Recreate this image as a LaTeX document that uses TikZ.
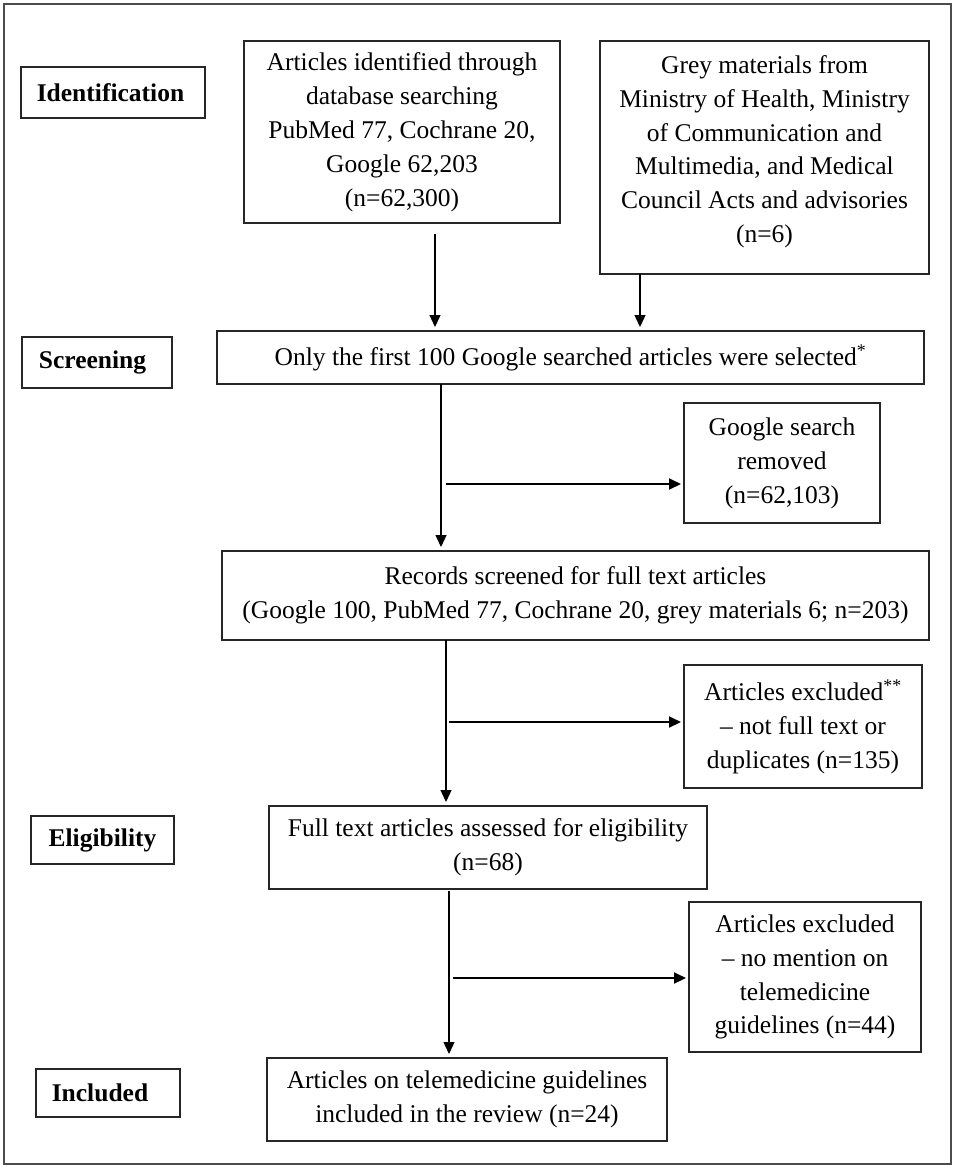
\documentclass[tikz,border=0pt]{standalone}
\usepackage{fontspec}
\setmainfont{Liberation Serif}
\usetikzlibrary{arrows.meta}
\begin{document}
\begin{tikzpicture}[x=1bp,y=-1bp,
  box/.style={draw=black!85, line width=1.1bp, inner sep=0pt, outer sep=0pt, align=center,
    font=\fontsize{25.6}{34}\selectfont},
  lbl/.style={box, font=\fontsize{25.6}{34}\selectfont\bfseries},
  arr/.style={draw=black, line width=1.3bp, -{Triangle[length=12bp,width=11bp]}, shorten >=4bp},
  sidearr/.style={draw=black, line width=2bp, -{Triangle[length=12bp,width=11bp]}, shorten >=3bp},
  frame/.style={draw=black!70, line width=1.3bp}]
\useasboundingbox (0,0) rectangle (957,1168);
\draw[frame] (4,4) rectangle (951,1164);

% stage labels
\node[lbl, minimum width=184bp, minimum height=51bp] (ident) at (113,92.5) {\kern-5bp Identification};
\node[lbl, minimum width=150bp, minimum height=51bp] (screenlbl) at (97,362.5) {\kern-9bp Screening};
\node[lbl, minimum width=143bp, minimum height=48bp] (eliglbl) at (102.5,840) {Eligibility};
\node[lbl, minimum width=144bp, minimum height=48bp] (incllbl) at (108,1093) {\kern-16bp Included};

% flow boxes
\node[box, minimum width=316bp, minimum height=182bp] (artA) at (402,132)
  {Articles identified through\\database searching\\PubMed 77, Cochrane 20,\\Google 62,203\\(n=62,300)};
\node[box, minimum width=329bp, minimum height=233bp, text depth=17bp] (grey) at (764.5,157.5)
  {Grey materials from\\Ministry of Health, Ministry\\of Communication and\\Multimedia, and Medical\\Council Acts and advisories\\(n=6)};
\node[box, minimum width=707bp, minimum height=53bp] (main) at (570.5,357.5)
  {Only the first 100 Google searched articles were selected\textsuperscript{*}};
\node[box, minimum width=196bp, minimum height=120bp] (google) at (782,463)
  {Google search\\removed\\(n=62,103)};
\node[box, minimum width=707bp, minimum height=89bp] (records) at (575.5,595.5)
  {Records screened for full text articles\\(Google 100, PubMed 77, Cochrane 20, grey materials 6; n=203)};
\node[box, minimum width=238bp, minimum height=123bp] (excl1) at (803,726.5)
  {Articles excluded\textsuperscript{**}\\– not full text or\\duplicates (n=135)};
\node[box, minimum width=438bp, minimum height=83bp] (fulltext) at (488,847.5)
  {Full text articles assessed for eligibility\\(n=68)};
\node[box, minimum width=232bp, minimum height=150bp] (excl2) at (805,977)
  {Articles excluded\\– no mention on\\telemedicine\\guidelines (n=44)};
\node[box, minimum width=400bp, minimum height=83bp] (tele) at (467,1099.5)
  {Articles on telemedicine guidelines\\included in the review (n=24)};

% connectors
\coordinate (a1) at (435,234);
\draw[arr] (a1) -- (a1 |- main.north);
\coordinate (b1) at (640,0);
\draw[arr] (b1 |- grey.south) -- (b1 |- main.north);
\coordinate (m1) at (441,0);
\draw[arr] (m1 |- main.south) -- (m1 |- records.north);
\coordinate (s1) at (446,484);
\draw[sidearr] (s1) -- (s1 -| google.west);
\coordinate (m2) at (446,0);
\draw[arr] (m2 |- records.south) -- (m2 |- fulltext.north);
\coordinate (s2) at (449,722);
\draw[sidearr] (s2) -- (s2 -| excl1.west);
\coordinate (m3) at (449,891);
\draw[arr] (m3) -- (m3 |- tele.north);
\coordinate (s3) at (453,978);
\draw[sidearr] (s3) -- (s3 -| excl2.west);
\end{tikzpicture}
\end{document}
